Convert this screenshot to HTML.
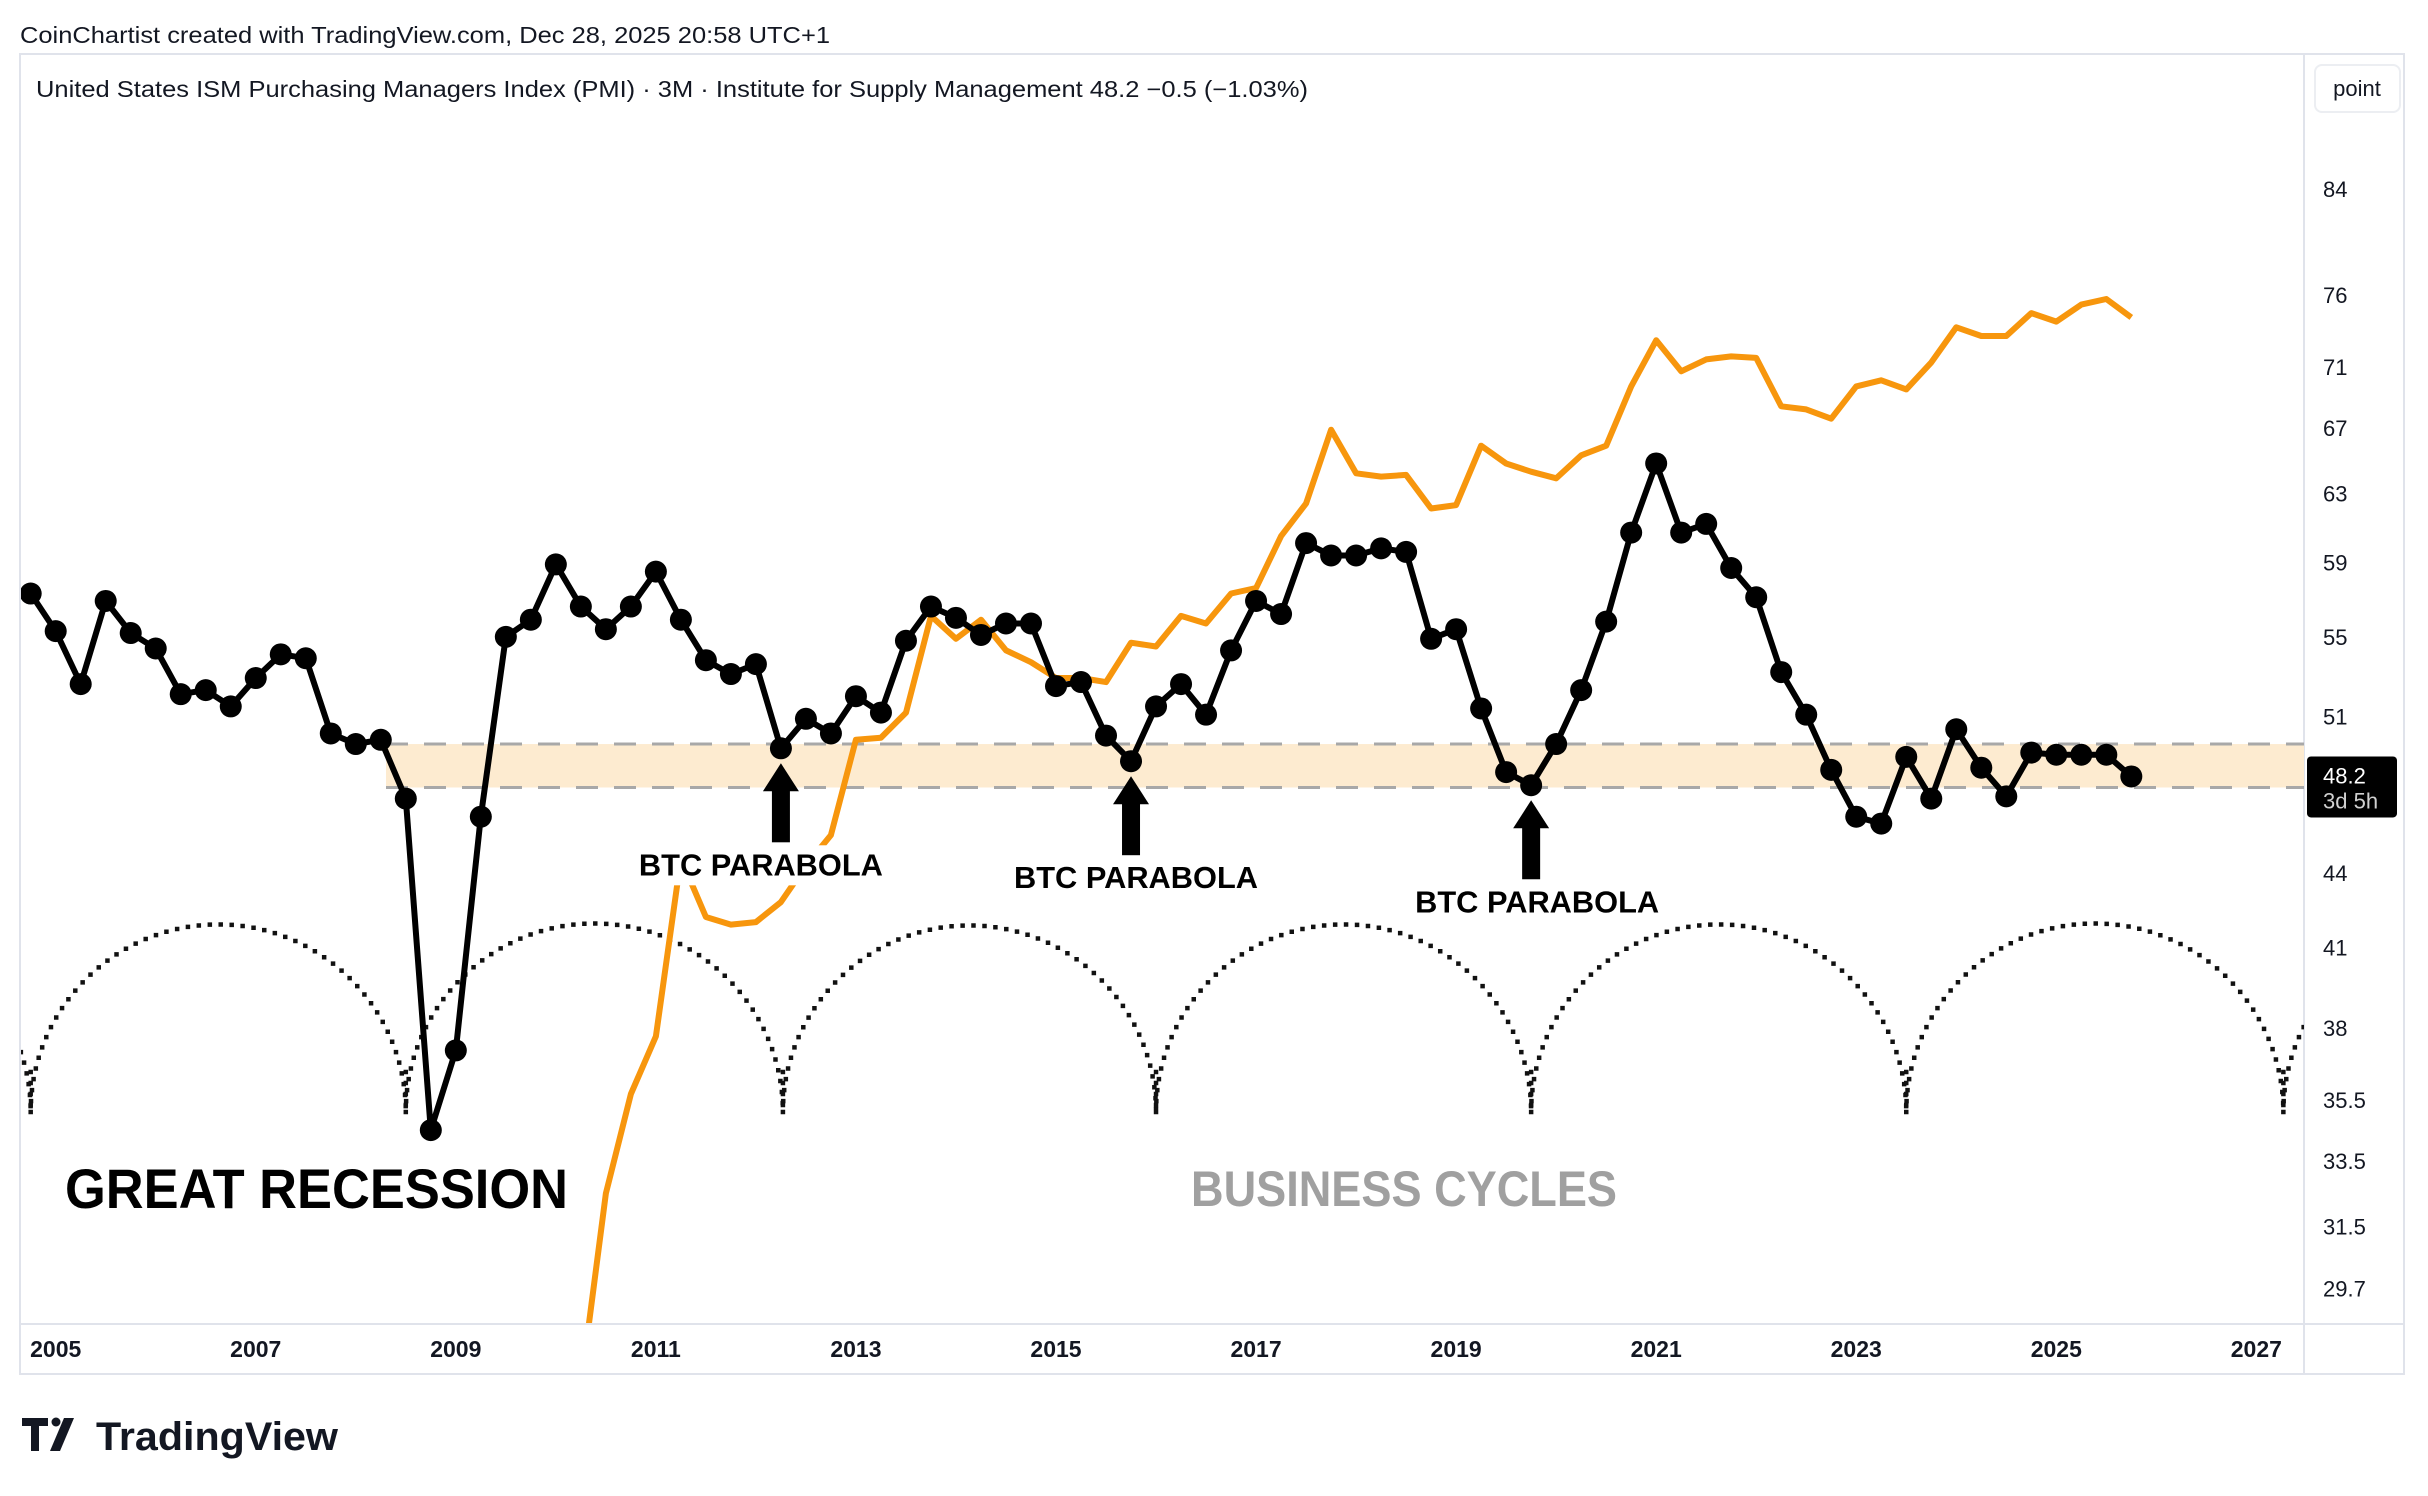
<!DOCTYPE html>
<html><head><meta charset="utf-8"><style>
html,body{margin:0;padding:0;background:#fff}
svg{display:block;font-family:"Liberation Sans",sans-serif}
</style></head><body>
<svg id="chart" width="2428" height="1496" viewBox="0 0 2428 1496" xmlns="http://www.w3.org/2000/svg">
<rect width="2428" height="1496" fill="#fff"/>
<text x="20" y="43" font-size="23" fill="#131722" textLength="810" lengthAdjust="spacingAndGlyphs">CoinChartist created with TradingView.com, Dec 28, 2025 20:58 UTC+1</text>
<rect x="20" y="54" width="2384" height="1320" fill="none" stroke="#e0e3eb" stroke-width="2"/>
<line x1="2304" y1="54" x2="2304" y2="1374" stroke="#e0e3eb" stroke-width="2"/>
<line x1="20" y1="1324" x2="2404" y2="1324" stroke="#e0e3eb" stroke-width="2"/>
<text x="36" y="97" font-size="23" fill="#131722" textLength="1272" lengthAdjust="spacingAndGlyphs">United States ISM Purchasing Managers Index (PMI) · 3M · Institute for Supply Management  48.2  −0.5 (−1.03%)</text>
<rect x="2315" y="65" width="85" height="47" rx="7" fill="#fff" stroke="#eceef2" stroke-width="2"/>
<text x="2357" y="96" font-size="22" fill="#131722" text-anchor="middle">point</text>
<g id="plot"></g>
<g id="yaxis"></g>
<g id="xaxis"></g>
<g>
<path d="M22 1418 h26 v8 h-9 v25 h-8 v-25 h-9z" fill="#131722"/>
<circle cx="56" cy="1422" r="4.5" fill="#131722"/>
<path d="M64 1418 h10 l-14 33 h-10z" fill="#131722"/>
<text x="96" y="1450" font-size="40" font-weight="bold" fill="#131722" textLength="242" lengthAdjust="spacingAndGlyphs">TradingView</text>
</g>
</svg>
<script>
const startYear = 2004.75;
const pmiValues = [57.3,55.3,52.6,56.9,55.2,54.4,52.1,52.3,51.5,52.9,54.1,53.9,50.2,49.7,49.9,47.2,34.5,37.2,46.4,55.0,55.9,58.9,56.6,55.4,56.6,58.5,55.9,53.8,53.1,53.6,49.5,50.9,50.2,52.0,51.2,54.8,56.6,56.0,55.1,55.7,55.7,52.5,52.7,50.1,48.9,51.5,52.6,51.1,54.3,56.9,56.2,60.1,59.4,59.4,59.8,59.6,54.9,55.4,51.4,48.4,47.8,49.7,52.3,55.8,60.7,64.8,60.7,61.2,58.7,57.1,53.2,51.1,48.5,46.4,46.1,49.1,47.2,50.4,48.6,47.3,49.3,49.2,49.2,49.2,48.2];
const btcStart = 2010.25;
const btcValues = [27.1,32.5,35.7,37.7,44.6,42.2,41.9,42.0,42.8,44.3,45.6,49.9,50.0,51.2,56.1,54.9,55.9,54.3,53.7,52.9,52.9,52.7,54.7,54.5,56.1,55.7,57.3,57.6,60.5,62.4,66.9,64.2,64.0,64.1,62.1,62.3,65.9,64.8,64.3,63.9,65.3,65.9,69.7,72.8,70.7,71.5,71.7,71.6,68.4,68.2,67.6,69.7,70.1,69.5,71.3,73.7,73.1,73.1,74.7,74.1,75.3,75.7,74.4];
const yTicks = [84,76,71,67,63,59,55,51,44,41,38,35.5,33.5,31.5,29.7];
const xTicks = [2005,2007,2009,2011,2013,2015,2017,2019,2021,2023,2025,2027];
const bandRange = [47.7,49.7];
const cycleCusps = [2004.75,2008.5,2012.27,2016.0,2019.75,2023.5,2027.27];
const annotationLabels = ["BTC PARABOLA","BTC PARABOLA","BTC PARABOLA"];
const annotationTimes = [2012.25,2015.75,2019.75];
const annotationValues = [49.5,48.9,47.8];
const lastValue = 48.2;

const NS="http://www.w3.org/2000/svg";
const X = t => 55.7 + (t-2005)*100.03;
const Y = v => 189 + 1057.6*Math.log(84/v);
function mk(tag, attrs, parent){const e=document.createElementNS(NS,tag);for(const k in attrs)e.setAttribute(k,attrs[k]);parent.appendChild(e);return e;}
const svg=document.getElementById('chart');
const plot=document.getElementById('plot');
const defs=mk('defs',{},svg);
const cp=mk('clipPath',{id:'clip'},defs);
mk('rect',{x:21,y:55,width:2283,height:1268},cp);
plot.setAttribute('clip-path','url(#clip)');

// band
const band=mk('rect',{x:386,y:Y(bandRange[1]),width:2304-386,height:Y(bandRange[0])-Y(bandRange[1]),fill:'#fdebd0'},plot);


bandRange.forEach((v,i)=>{const l=mk('line',{x1:386,x2:2304,y1:Y(v),y2:Y(v),stroke:'#a8a8a8','stroke-width':3,'stroke-dasharray':'22 16'},plot);

});

// cycles
const cy=1112, r=(X(cycleCusps[1])-X(cycleCusps[0]))/2;
let d='';
for(let i=0;i<cycleCusps.length;i++){
  const a=X(cycleCusps[i]);
  const b=i+1<cycleCusps.length?X(cycleCusps[i+1]):a+2*r;
  const rr=(b-a)/2;
  d+=`M${a} ${cy} A${rr} ${rr} 0 0 1 ${b} ${cy} `;
}
const a0=X(cycleCusps[0]);
d+=`M${a0-2*r} ${cy} A${r} ${r} 0 0 1 ${a0} ${cy}`;
const cyc=mk('path',{d:d,fill:'none',stroke:'#111','stroke-width':4.5,'stroke-dasharray':'0 11','stroke-linecap':'square'},plot);


cycleCusps.forEach(c=>{const s=mk('line',{x1:X(c),x2:X(c),y1:cy-40,y2:cy,stroke:'#111','stroke-width':4.5,'stroke-dasharray':'0 11','stroke-linecap':'square'},plot);

});

// btc
const bp=btcValues.map((v,i)=>`${X(btcStart+i/4).toFixed(1)},${Y(v).toFixed(1)}`).join(' ');
const bl=mk('polyline',{points:bp,fill:'none',stroke:'#f7960d','stroke-width':6,'stroke-linejoin':'round'},plot);



// pmi
const pp=pmiValues.map((v,i)=>`${X(startYear+i/4).toFixed(1)},${Y(v).toFixed(1)}`).join(' ');
const pl=mk('polyline',{points:pp,fill:'none',stroke:'#000','stroke-width':6,'stroke-linejoin':'round'},plot);


pmiValues.forEach((v,i)=>{const c=mk('circle',{cx:X(startYear+i/4),cy:Y(v),r:11,fill:'#000'},plot);

});

// annotations
const labelShift=[-20,5,6];
annotationLabels.forEach((lab,i)=>{
  const x=X(annotationTimes[i]), tip=Y(annotationValues[i])+15;
  const g=mk('g',{},svg);
  
  
  mk('rect',{x:x-9,y:tip+26,width:18,height:53},g);
  mk('path',{d:`M${x} ${tip} L${x+18} ${tip+28} L${x-18} ${tip+28}Z`,fill:'#000'},g);
  const ty=tip+112, lx=x+labelShift[i];
  mk('rect',{x:lx-128,y:ty-30,width:256,height:40,fill:'#fff'},g);
  const t=mk('text',{x:lx,y:ty,'font-size':31,'font-weight':'bold','text-anchor':'middle',fill:'#000',textLength:244,lengthAdjust:'spacingAndGlyphs'},g);
  t.textContent=lab;
});
const gr=mk('text',{x:65,y:1208,'font-size':56,'font-weight':'bold',fill:'#000',textLength:503,lengthAdjust:'spacingAndGlyphs'},svg);
gr.textContent='GREAT RECESSION';


const bc=mk('text',{x:1191,y:1206,'font-size':50,'font-weight':'bold',fill:'#a0a0a0',textLength:426,lengthAdjust:'spacingAndGlyphs'},svg);
bc.textContent='BUSINESS CYCLES';



// axes
const ya=document.getElementById('yaxis');


yTicks.forEach(v=>{const t=mk('text',{x:2323,y:Y(v)+8,'font-size':22,fill:'#131722'},ya);t.textContent=String(v);

});
const pb=mk('g',{},ya);


const ly=Y(lastValue);
mk('rect',{x:2307,y:ly-20,width:90,height:61,rx:4,fill:'#000'},pb);
const t1=mk('text',{x:2323,y:ly+7,'font-size':22,fill:'#fff'},pb);t1.textContent=String(lastValue);
const t2=mk('text',{x:2323,y:ly+32,'font-size':22,fill:'#d0d0d0'},pb);t2.textContent='3d 5h';
const xa=document.getElementById('xaxis');


xTicks.forEach(yr=>{const t=mk('text',{x:X(yr),y:1357,'font-size':23,'font-weight':'bold','text-anchor':'middle',fill:'#131722'},xa);t.textContent=String(yr);

});
</script>
</body></html>
